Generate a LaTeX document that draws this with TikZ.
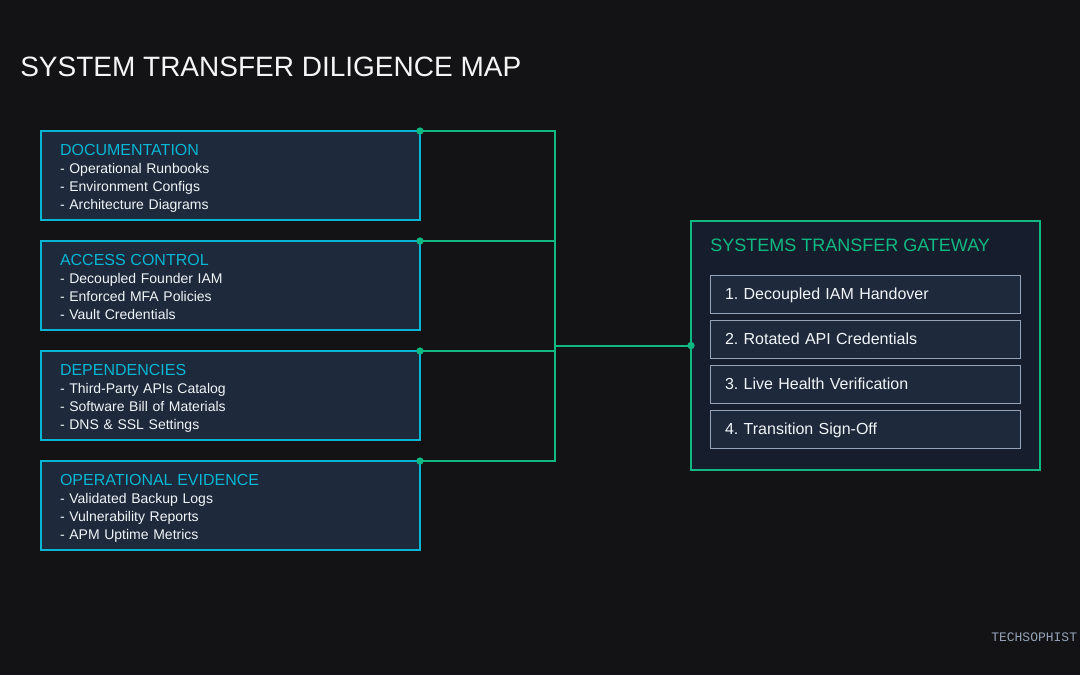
\documentclass[tikz,border=0pt]{standalone}
\usepackage{fontspec}
\setmainfont{Liberation Sans}
\setmonofont{Liberation Mono}
\usetikzlibrary{positioning}

\definecolor{bgdark}{HTML}{131315}
\definecolor{panel}{HTML}{1E293B}
\definecolor{gwpanel}{HTML}{161E2D}
\definecolor{cyanedge}{HTML}{06B6D4}
\definecolor{greenedge}{HTML}{10B981}
\definecolor{slateedge}{HTML}{94A3B8}
\definecolor{textlight}{HTML}{F1F5F9}
\definecolor{titlewhite}{HTML}{F5F5F5}

\frenchspacing
\newcommand\areatitle[1]{{\color{cyanedge}\fontsize{12}{13.5}\selectfont\rule{0pt}{12.75pt}#1}}

\begin{document}
\begin{tikzpicture}[
  x=0.75pt, y=-0.75pt,
  font=\fontsize{10.5}{13.5}\selectfont,
  area/.style={draw=cyanedge, line width=1.5pt, fill=panel, outer sep=0pt,
               inner xsep=14.25pt, text width=255.75pt, minimum height=66.75pt,
               align=left, text=textlight,
               execute at end node={\rule[-3pt]{0pt}{3pt}}},
  gate/.style={draw=greenedge, line width=1.5pt, fill=gwpanel, outer sep=0pt,
               minimum width=261.75pt, minimum height=186.75pt},
  stage/.style={draw=slateedge, line width=0.75pt, fill=panel, outer sep=0pt,
                inner xsep=11.25pt, text width=210pt, minimum height=28.5pt,
                text height=8.6pt, text depth=0pt,
                align=left, text=textlight, font=\fontsize{12}{14}\selectfont},
  link/.style={draw=greenedge, line width=1.5pt},
  node distance=15.75pt,
]
\fill[bgdark] (0,0) rectangle (1080,675);
\useasboundingbox (0,0) rectangle (1080,675);

\node[anchor=base west, inner sep=0pt, text=titlewhite,
  font=\fontsize{21}{25}\selectfont] (title) at (20,76) {SYSTEM TRANSFER DILIGENCE MAP};

\node[area, anchor=north west] (docs) at (41,131)
  {\areatitle{DOCUMENTATION}\\- Operational Runbooks\\- Environment Configs\\- Architecture Diagrams};
\node[area, below=of docs] (access)
  {\areatitle{ACCESS CONTROL}\\- Decoupled Founder IAM\\- Enforced MFA Policies\\- Vault Credentials};
\node[area, below=of access] (deps)
  {\areatitle{DEPENDENCIES}\\- Third-Party APIs Catalog\\- Software Bill of Materials\\- DNS \& SSL Settings};
\node[area, below=of deps] (evidence)
  {\areatitle{OPERATIONAL EVIDENCE}\\- Validated Backup Logs\\- Vulnerability Reports\\- APM Uptime Metrics};

\node[gate, anchor=north west] (gateway) at (691,221) {};
\node[anchor=base west, inner sep=0pt, text=greenedge,
  font=\fontsize{13.5}{16}\selectfont] (gwtitle) at (710,251) {SYSTEMS TRANSFER GATEWAY};
\node[stage, anchor=north west] (s1) at (710,275) {1. Decoupled IAM Handover};
\node[stage, below=5.25pt of s1] (s2) {2. Rotated API Credentials};
\node[stage, below=5.25pt of s2] (s3) {3. Live Health Verification};
\node[stage, below=5.25pt of s3] (s4) {4. Transition Sign-Off};

\foreach \src in {docs,access,deps,evidence}{
  \draw[link] (\src.north east) -- ++(135,0) |- (gateway.west);
  \fill[greenedge] (\src.north east) circle (2.75pt);
}
\fill[greenedge] (gateway.west) circle (2.75pt);

\node[anchor=base west, inner sep=0pt, text=slateedge,
  font=\ttfamily\fontsize{9.75}{12}\selectfont] (brand) at (991,641) {TECHSOPHIST};
\end{tikzpicture}
\end{document}
